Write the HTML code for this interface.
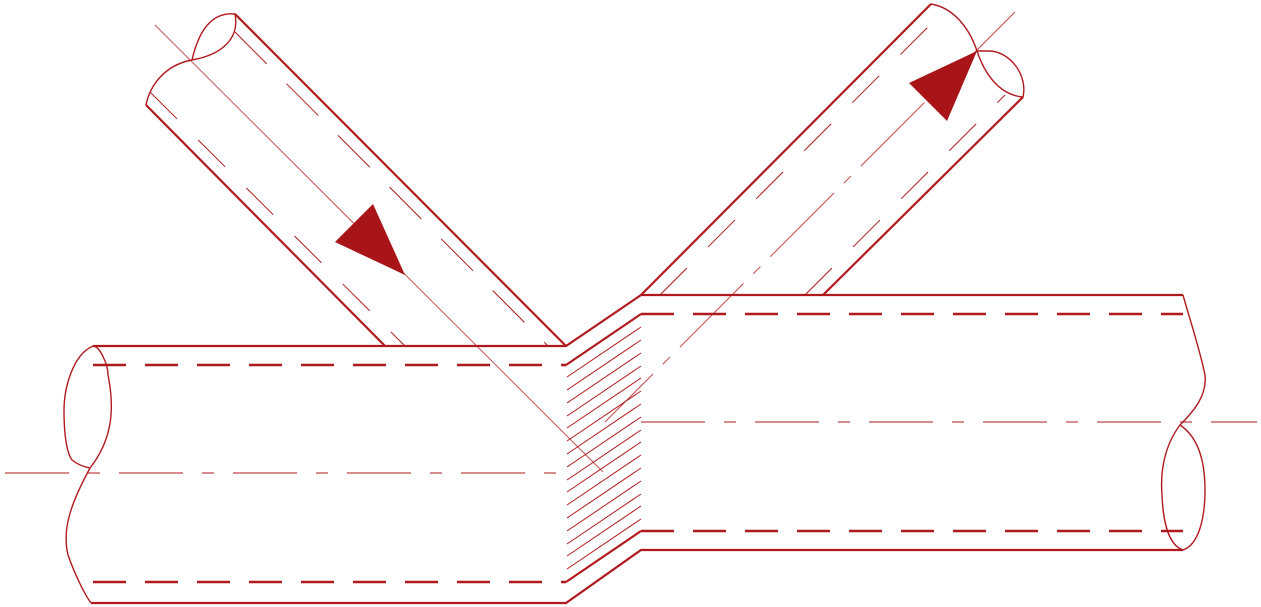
<!DOCTYPE html>
<html><head><meta charset="utf-8"><style>html,body{margin:0;padding:0;background:#fff}svg{display:block}</style></head>
<body>
<svg width="1261" height="607" viewBox="0 0 1261 607" xmlns="http://www.w3.org/2000/svg">
<g fill="none" stroke="#b01a1e" stroke-linecap="butt">
<!-- main pipe outlines -->
<polyline points="93,346 566,346 641,295 1183,295" stroke-width="2.2"/>
<polyline points="91,603 566,603 641,550 1183,550" stroke-width="2.2"/>
<!-- inner dashed -->
<line x1="93" y1="365" x2="566" y2="365" stroke-width="2.4" stroke-dasharray="33,19"/>
<line x1="93" y1="582" x2="566" y2="582" stroke-width="2.4" stroke-dasharray="33,19"/>
<polyline points="566,365 641,314" stroke-width="2.2"/>
<polyline points="566,582 641,531" stroke-width="2.2"/>
<line x1="641" y1="314" x2="1183" y2="314" stroke-width="2.4" stroke-dasharray="33,19"/>
<line x1="641" y1="531" x2="1183" y2="531" stroke-width="2.4" stroke-dasharray="33,19"/>
<!-- center lines -->
<line x1="5" y1="473" x2="566" y2="473" stroke-width="1.2" stroke-dasharray="64,19,12,19" opacity="0.8"/>
<line x1="641" y1="422" x2="1257" y2="422" stroke-width="1.2" stroke-dasharray="64,19,12,19" opacity="0.8"/>
<!-- hatching -->
<g stroke-width="1">
<line x1="567" y1="377" x2="641" y2="327"/><line x1="567" y1="390" x2="641" y2="340"/>
<line x1="567" y1="403" x2="641" y2="353"/><line x1="567" y1="416" x2="641" y2="366"/>
<line x1="567" y1="428" x2="641" y2="378"/><line x1="567" y1="441" x2="641" y2="391"/>
<line x1="567" y1="454" x2="641" y2="404"/><line x1="567" y1="467" x2="641" y2="417"/>
<line x1="567" y1="480" x2="641" y2="430"/><line x1="567" y1="492" x2="641" y2="442"/>
<line x1="567" y1="505" x2="641" y2="455"/><line x1="567" y1="518" x2="641" y2="468"/>
<line x1="567" y1="531" x2="641" y2="481"/><line x1="567" y1="544" x2="641" y2="494"/>
<line x1="567" y1="556" x2="641" y2="506"/><line x1="567" y1="569" x2="641" y2="519"/>
</g>
<!-- left end break -->
<path d="M93,346 C100,346 108,365 108,375 C115,410 112,440 90,468 C70,505 62,530 68,555 C75,575 85,595 91,603" stroke-width="1.4"/>
<path d="M93,346 C72,355 64,390 64,410 C64,440 68,455 72,460 C78,465 85,467 90,468" stroke-width="1.4"/>
<!-- right end break -->
<path d="M1183,295 C1190,320 1200,350 1205,375 C1207,395 1195,410 1180,425 C1165,445 1160,470 1162,495 C1163,520 1168,545 1183,550" stroke-width="1.4"/>
<path d="M1180,425 C1195,435 1205,455 1205,490 C1205,520 1198,545 1183,550" stroke-width="1.4"/>
<!-- left branch -->
<line x1="146" y1="105" x2="385" y2="346" stroke-width="2.2"/>
<line x1="235" y1="14" x2="566" y2="346" stroke-width="2.2"/>
<path d="M146,105 C150,85 165,65 192,60 C220,55 240,40 235,14 C215,12 200,25 192,60" stroke-width="1.4"/>
<line x1="150" y1="92" x2="405" y2="346" stroke-width="1" stroke-dasharray="38,30"/>
<line x1="235" y1="32" x2="548" y2="346" stroke-width="1" stroke-dasharray="45,28"/>
<line x1="155" y1="25" x2="603" y2="472" stroke-width="1" opacity="0.75"/>
<polygon points="335,242 373,204 405,275" fill="#a81418" stroke="none"/>
<!-- right branch -->
<line x1="641" y1="295" x2="931" y2="4" stroke-width="2.2"/>
<line x1="823" y1="295" x2="1023" y2="97" stroke-width="2.2"/>
<path d="M931,4 C955,8 970,30 977,51 C985,75 1000,95 1023,97 C1028,75 1010,52 990,51 L977,51" stroke-width="1.4"/>
<line x1="660" y1="295" x2="948" y2="7" stroke-width="1" stroke-dasharray="38,30"/>
<line x1="805" y1="295" x2="1005" y2="95" stroke-width="1" stroke-dasharray="38,30"/>
<line x1="1015" y1="12" x2="605" y2="422" stroke-width="1" stroke-dasharray="90,14,10,14" opacity="0.8"/>
<polygon points="909,83 977,51 947,121" fill="#a81418" stroke="none"/>
</g>
</svg>
</body></html>
